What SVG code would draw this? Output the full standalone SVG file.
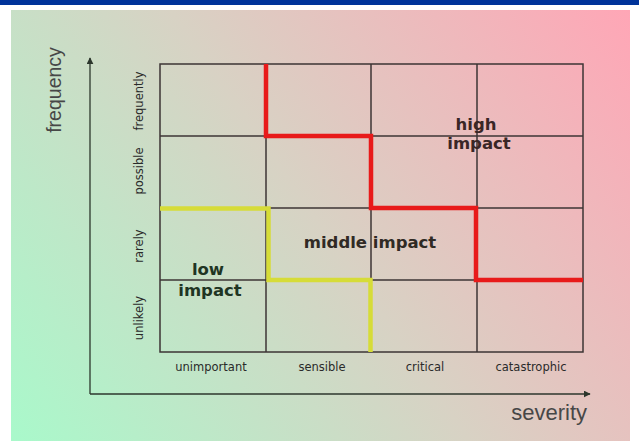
<svg xmlns="http://www.w3.org/2000/svg" width="639" height="441" viewBox="0 0 639 441">
  <defs>
    <linearGradient id="bg" gradientUnits="userSpaceOnUse" x1="10" y1="441" x2="631" y2="10">
      <stop offset="0" stop-color="#a9f9cb"/>
      <stop offset="0.5" stop-color="#d8d2c4"/>
      <stop offset="1" stop-color="#ffa6b6"/>
    </linearGradient>
    <marker id="arr" viewBox="0 0 10 10" refX="9" refY="5" markerWidth="7" markerHeight="7" markerUnits="userSpaceOnUse" orient="auto">
      <path d="M0,0 L10,5 L0,10 z" fill="#2c362c"/>
    </marker>
    <style>
      .grid { fill: none; stroke: #3d3535; stroke-width: 1.5; }
      .axis { fill: none; stroke: #2c362c; stroke-width: 1.3; }
      .axlab { font-family: "Liberation Sans", Arial, sans-serif; fill: #474747; }
      .tick { font-family: "DejaVu Sans", sans-serif; font-size: 11.5px; fill: #2a2a2a; }
      .zone { font-family: "DejaVu Sans", sans-serif; font-weight: bold; font-size: 16.5px; text-anchor: middle; }
      .red { fill: none; stroke: #e81a1a; stroke-width: 4.5; stroke-linejoin: miter; }
      .yel { fill: none; stroke: #d6dc38; stroke-width: 4.5; stroke-linejoin: miter; }
    </style>
  </defs>

  <g id="background">
    <rect x="0" y="0" width="639" height="441" fill="#ffffff"/>
    <rect x="0" y="0" width="639" height="5" fill="#00339a"/>
    <rect x="11" y="10" width="619" height="431" fill="url(#bg)"/>
  </g>

  <g id="connectors">
    <line class="axis" x1="90" y1="394" x2="90" y2="58" marker-end="url(#arr)"/>
    <line class="axis" x1="90" y1="394" x2="590" y2="394" marker-end="url(#arr)"/>
  </g>

  <g id="grid">
    <rect class="grid" x="160" y="64" width="423" height="288"/>
    <line class="grid" x1="160" y1="136" x2="583" y2="136"/>
    <line class="grid" x1="160" y1="208" x2="583" y2="208"/>
    <line class="grid" x1="160" y1="280" x2="583" y2="280"/>
    <line class="grid" x1="266" y1="64" x2="266" y2="352"/>
    <line class="grid" x1="371" y1="64" x2="371" y2="352"/>
    <line class="grid" x1="477" y1="64" x2="477" y2="352"/>
  </g>

  <g id="boundaries">
    <path class="red" d="M266,64 V136 H371 V208 H476 V280 H583"/>
    <path class="yel" d="M160,208.5 H268.5 V280 H370.5 V352"/>
  </g>

  <g id="axis-labels">
    <text class="axlab" font-size="19.5" text-anchor="middle" transform="translate(61,90) rotate(-90)">frequency</text>
    <text class="axlab" font-size="22" x="587" y="420" text-anchor="end">severity</text>
  </g>

  <g id="row-labels">
    <text class="tick" text-anchor="middle" transform="translate(143,101) rotate(-90)">frequently</text>
    <text class="tick" text-anchor="middle" transform="translate(143,171) rotate(-90)">possible</text>
    <text class="tick" text-anchor="middle" transform="translate(143,246) rotate(-90)">rarely</text>
    <text class="tick" text-anchor="middle" transform="translate(143,318) rotate(-90)">unlikely</text>
  </g>

  <g id="column-labels">
    <text class="tick" x="211" y="371" text-anchor="middle">unimportant</text>
    <text class="tick" x="322" y="371" text-anchor="middle">sensible</text>
    <text class="tick" x="425" y="371" text-anchor="middle">critical</text>
    <text class="tick" x="531" y="371" text-anchor="middle">catastrophic</text>
  </g>

  <g id="zone-high">
    <text class="zone" x="476" y="130" fill="#3a2626">high</text>
    <text class="zone" x="479" y="149" fill="#3a2626">impact</text>
  </g>
  <g id="zone-middle">
    <text class="zone" x="370" y="248" fill="#302a24">middle impact</text>
  </g>
  <g id="zone-low">
    <text class="zone" x="208" y="275" fill="#1f3523">low</text>
    <text class="zone" x="210" y="296" fill="#1f3523">impact</text>
  </g>
</svg>
